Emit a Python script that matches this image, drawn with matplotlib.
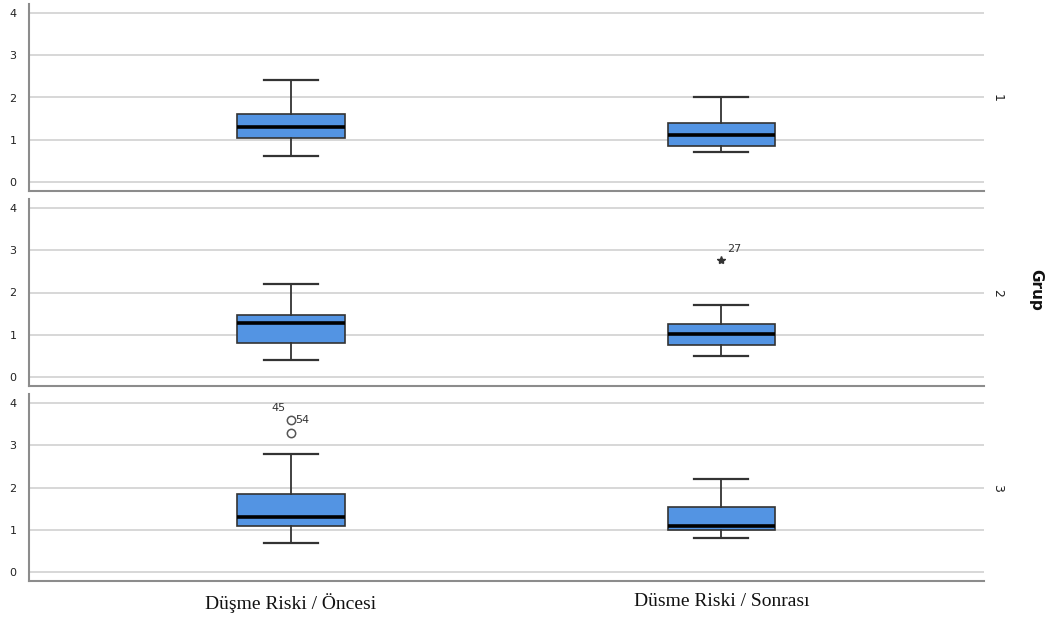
import matplotlib
matplotlib.use("Agg")
import matplotlib.pyplot as plt

# ---- data ----
categories = ["Düşme Riski / Öncesi", "Düsme Riski / Sonrası"]
groups = ["1", "2", "3"]
# per group: [Öncesi, Sonrası]
whislo = [[0.61, 0.71], [0.41, 0.50], [0.69, 0.80]]
q1     = [[1.05, 0.85], [0.81, 0.75], [1.10, 1.00]]
med    = [[1.31, 1.11], [1.27, 1.01], [1.31, 1.10]]
q3     = [[1.61, 1.40], [1.47, 1.25], [1.84, 1.54]]
whishi = [[2.41, 2.00], [2.20, 1.70], [2.80, 2.20]]
# outliers: (group index, category index, value, label, kind)
outliers = [
    (1, 1, 2.78, "27", "extreme"),
    (2, 0, 3.59, "54", "mild"),
    (2, 0, 3.30, "45", "mild"),
]
yticks = [0, 1, 2, 3, 4]

W, H = 1051, 618
fig = plt.figure(figsize=(W / 100, H / 100), dpi=100)

box_color = "#5394e3"
edge = "#333333"
grid_c = "#d4d4d4"
spine_c = "#8c8c8c"

left = 29 / W
width = (984 - 29) / W
tops = [4, 199, 394]
ax_h = 187
positions = [1, 2]

axes = []
for g in range(3):
    bottom = 1 - (tops[g] + ax_h) / H
    ax = fig.add_axes([left, bottom, width, ax_h / H])
    axes.append(ax)
    stats = []
    for c in range(2):
        stats.append(dict(med=med[g][c], q1=q1[g][c], q3=q3[g][c],
                          whislo=whislo[g][c], whishi=whishi[g][c], fliers=[]))
    ax.bxp(stats, positions=positions, widths=0.25, patch_artist=True,
           showfliers=False,
           boxprops=dict(facecolor=box_color, edgecolor=edge, linewidth=1.2),
           medianprops=dict(color="black", linewidth=2.6),
           whiskerprops=dict(color=edge, linewidth=1.3),
           capprops=dict(color=edge, linewidth=1.6),
           capwidths=0.125, zorder=3)
    ax.set_xlim(0.392, 2.61)
    ax.set_ylim(-0.213, 4.213)
    ax.set_yticks(yticks)
    ax.set_yticklabels([str(t) for t in yticks], fontsize=8, color="#222222")
    ax.tick_params(axis="y", length=0, pad=9)
    ax.tick_params(axis="x", length=0, labelbottom=False)
    for t in yticks:
        ax.axhline(t, color=grid_c, linewidth=1.3, zorder=1)
    for s in ["top", "right"]:
        ax.spines[s].set_visible(False)
    for s in ["left", "bottom"]:
        ax.spines[s].set_color(spine_c)
        ax.spines[s].set_linewidth(1.5)
    ax.set_facecolor("white")
    # right group label
    ax.text(1.014, 2.0, groups[g], transform=ax.get_yaxis_transform(),
            rotation=270, fontsize=9, ha="center", va="center", color="#222222")

for g, c, v, lab, kind in outliers:
    ax = axes[g]
    x = positions[c]
    if kind == "extreme":
        ax.plot([x], [v], marker="*", markersize=6, color="#333333",
                linestyle="none", zorder=4)
        ax.annotate(lab, (x, v), xytext=(4, 4), textcoords="offset points",
                    fontsize=8, color="#333333", ha="left", va="bottom")
    else:
        ax.plot([x], [v], marker="o", markersize=6, markerfacecolor="white",
                markeredgecolor="#555555", markeredgewidth=1.1,
                linestyle="none", zorder=4)
        if lab == "54":
            ax.annotate(lab, (x, v), xytext=(3, 0), textcoords="offset points",
                        fontsize=8, color="#333333", ha="left", va="center")
        else:
            ax.annotate(lab, (x, v), xytext=(-9, 18), textcoords="offset points",
                        fontsize=8, color="#333333", ha="center", va="center")

# x category labels under bottom panel
axes[2].tick_params(axis="x", labelbottom=True, pad=9)
axes[2].set_xticks(positions)
axes[2].set_xticklabels(categories, fontsize=14, family="Liberation Serif",
                        color="#111111")
for lbl, dy in zip(axes[2].get_xticklabels(), [0, 0]):
    lbl.set_fontstretch("condensed")

fig.text(1036 / W, 1 - 290 / H, "Grup", rotation=270, fontsize=11,
         fontweight="bold", ha="center", va="center", color="#111111")

fig.savefig("out.png", dpi=100, facecolor="white")
